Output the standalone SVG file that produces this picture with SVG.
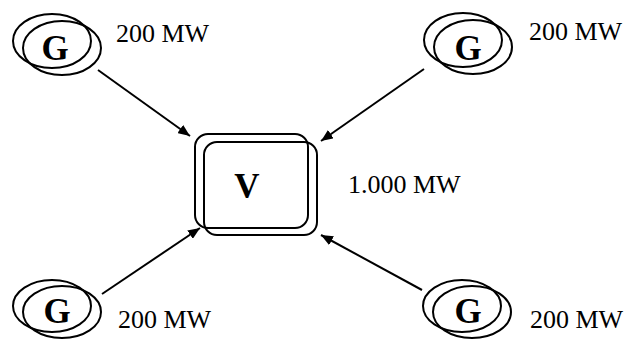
<svg xmlns="http://www.w3.org/2000/svg" width="626" height="341" viewBox="0 0 626 341">
<style>
.o{fill:none;stroke:#000;stroke-width:2}
.g{font-family:"Liberation Serif","Times New Roman",serif;font-weight:bold;font-size:35px;text-anchor:middle;fill:#000}
.t{font-family:"Liberation Serif","Times New Roman",serif;font-size:26px;fill:#000}
.c{fill:none;stroke:#000;stroke-width:2;marker-end:url(#ah)}
</style>
<defs>
<marker id="ah" viewBox="0 0 12 10" refX="12" refY="5" markerWidth="12" markerHeight="10" markerUnits="userSpaceOnUse" orient="auto">
<path d="M0,0 L12,5 L0,10 Z" fill="#000"/>
</marker>
</defs>
<rect width="626" height="341" fill="#fff"/>
<g id="g1">
<ellipse class="o" cx="52" cy="41" rx="39" ry="27"/>
<ellipse class="o" cx="62" cy="48" rx="39" ry="27"/>
<text class="g" x="55" y="60">G</text>
<text class="t" x="116" y="42">200 MW</text>
</g>
<g id="g2">
<ellipse class="o" cx="463" cy="40" rx="39" ry="27"/>
<ellipse class="o" cx="473" cy="47" rx="39" ry="27"/>
<text class="g" x="468" y="60">G</text>
<text class="t" x="529" y="40">200 MW</text>
</g>
<g id="g3">
<ellipse class="o" cx="52" cy="306" rx="39" ry="26"/>
<ellipse class="o" cx="62" cy="312" rx="39" ry="26"/>
<text class="g" x="57" y="323">G</text>
<text class="t" x="118" y="328">200 MW</text>
</g>
<g id="g4">
<ellipse class="o" cx="462" cy="306" rx="39" ry="26"/>
<ellipse class="o" cx="472" cy="312" rx="39" ry="26"/>
<text class="g" x="468" y="323">G</text>
<text class="t" x="530" y="328">200 MW</text>
</g>
<g id="v">
<rect class="o" x="195" y="134" width="113" height="94" rx="13"/>
<rect class="o" x="204" y="142" width="113" height="93" rx="13"/>
<text class="g" x="247" y="198">V</text>
<text class="t" x="348" y="193">1.000 MW</text>
</g>
<g id="connectors">
<line class="c" x1="98" y1="70" x2="190" y2="136"/>
<line class="c" x1="424" y1="69" x2="321" y2="141"/>
<line class="c" x1="102" y1="294" x2="200" y2="228"/>
<line class="c" x1="422" y1="290" x2="321" y2="235"/>
</g>
</svg>
